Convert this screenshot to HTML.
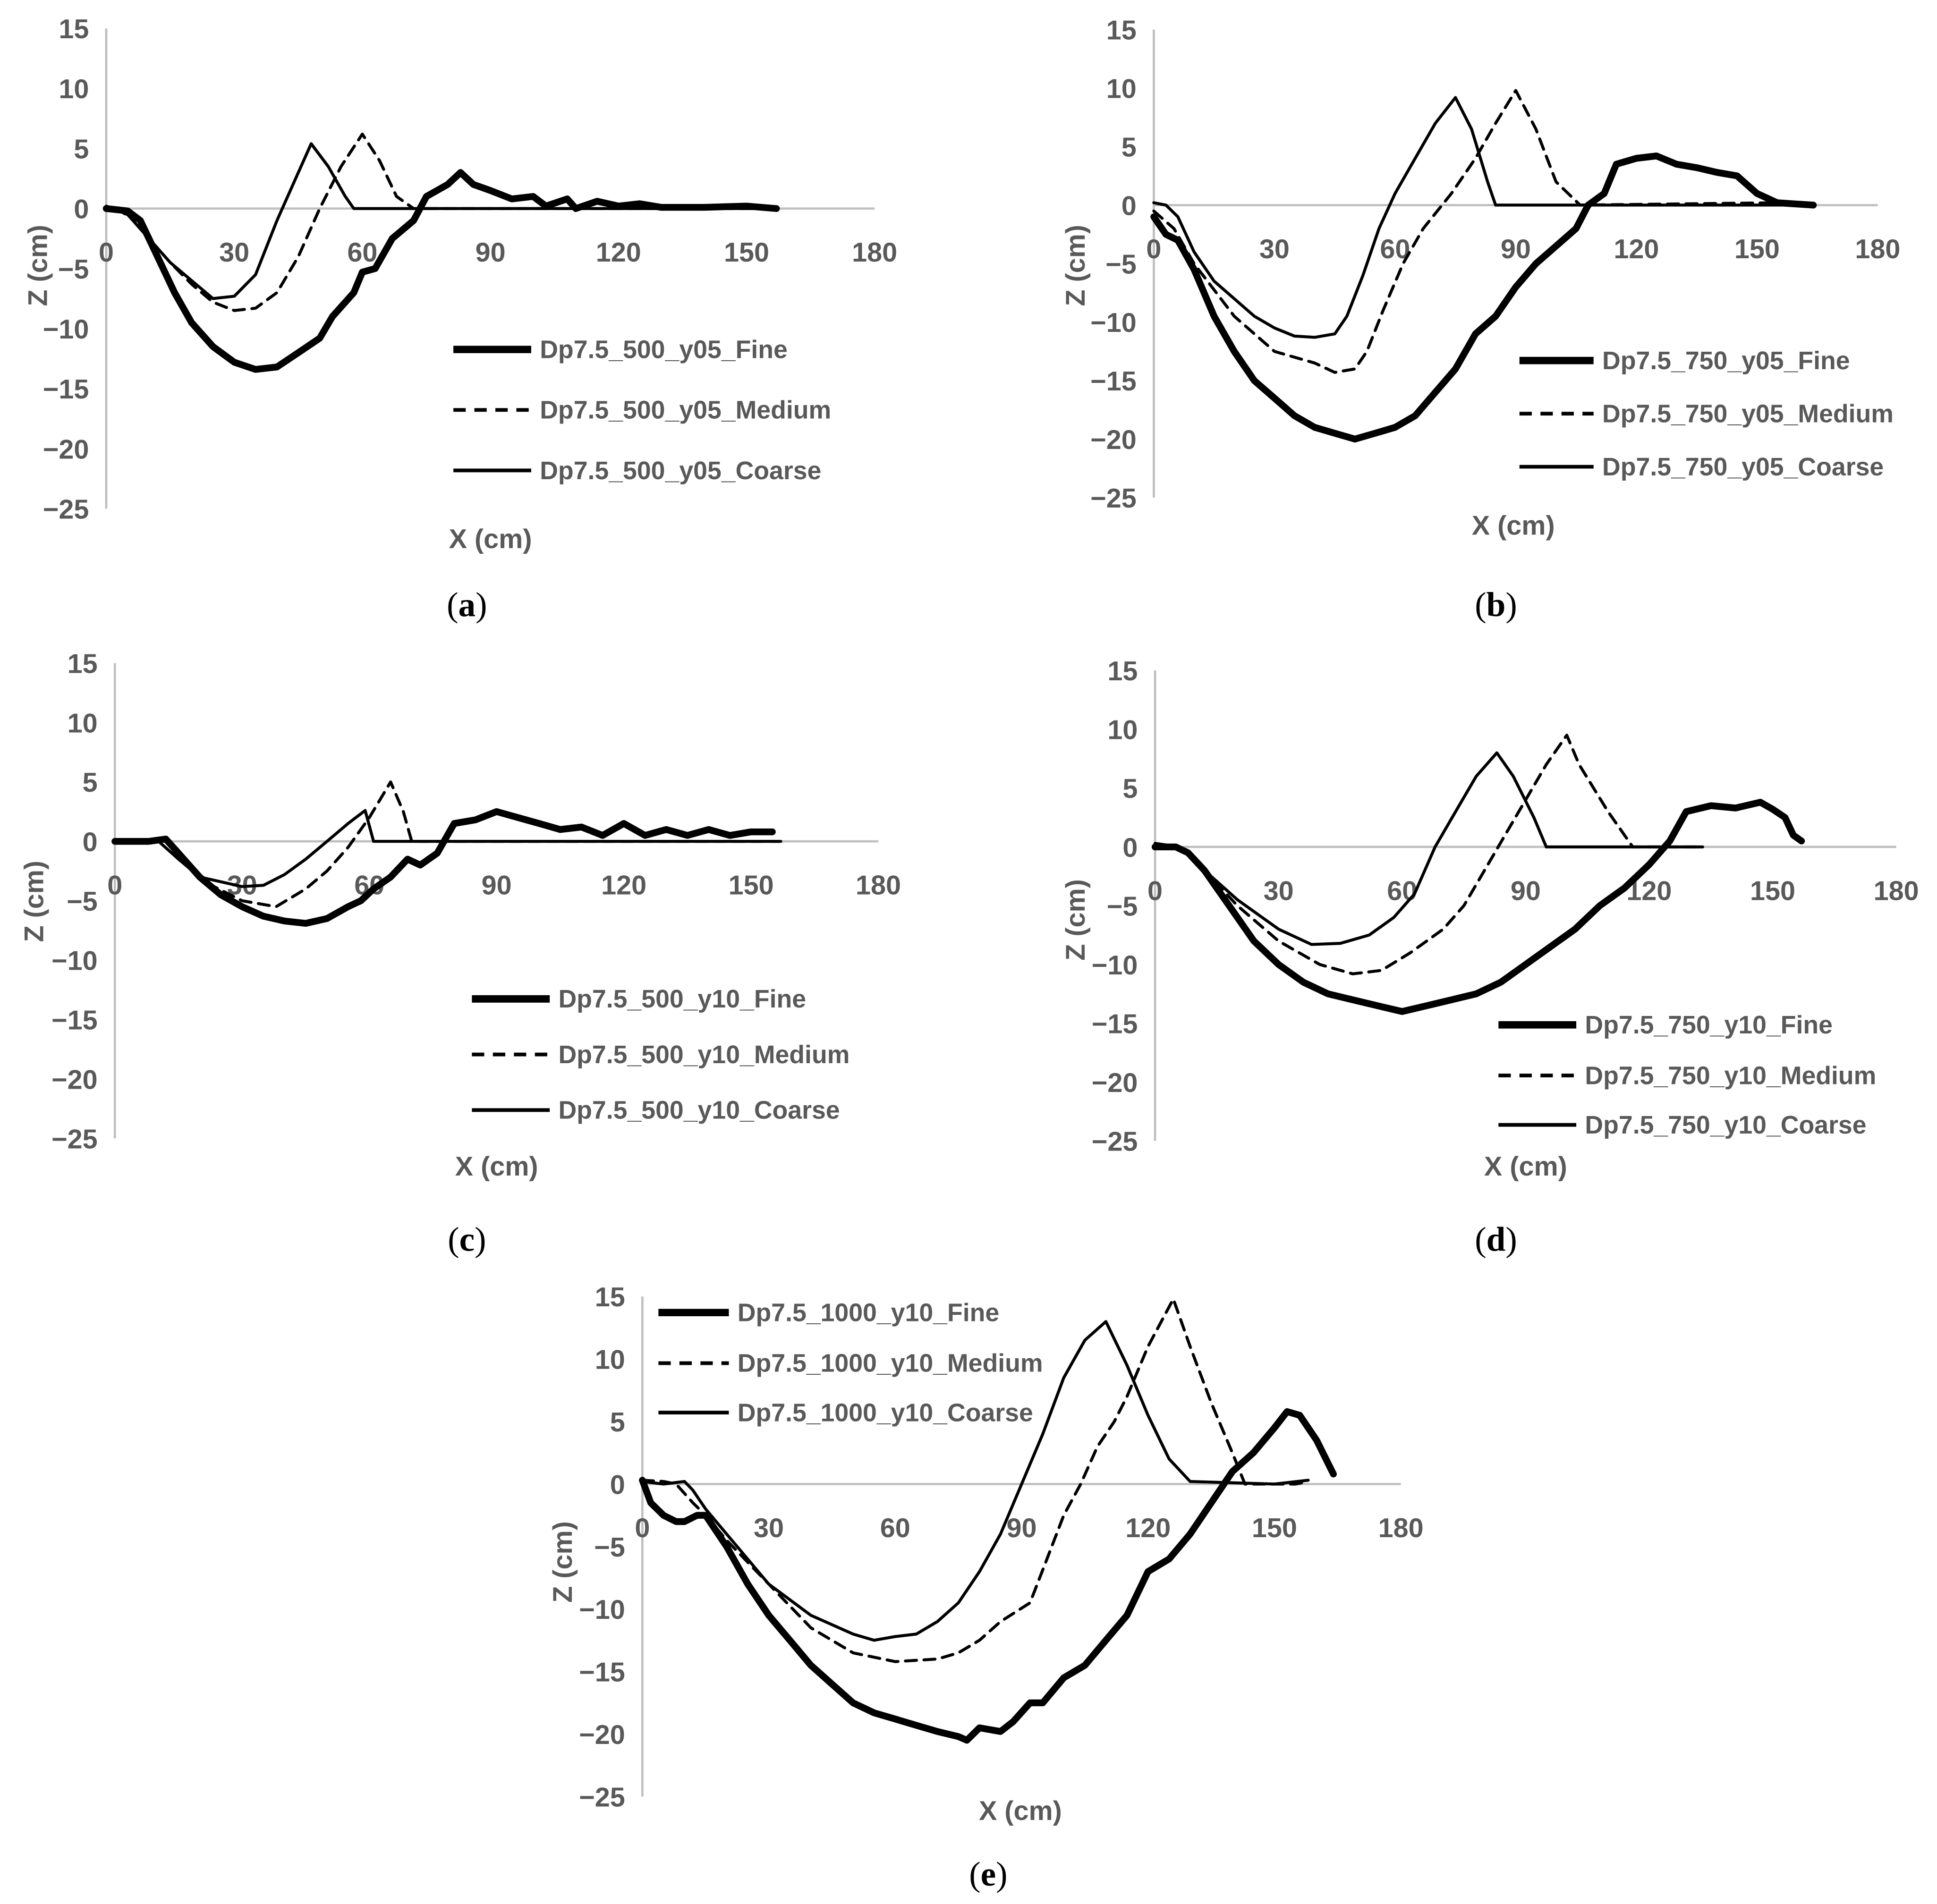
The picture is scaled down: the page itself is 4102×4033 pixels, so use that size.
<!DOCTYPE html>
<html><head><meta charset="utf-8">
<style>
html,body{margin:0;padding:0;background:#fff;}
svg{display:block;}
.tick{font-family:"Liberation Sans",sans-serif;font-weight:bold;fill:#595959;font-size:22px;}
.leg{font-family:"Liberation Sans",sans-serif;font-weight:bold;fill:#595959;font-size:20.5px;}
.cap{font-family:"Liberation Serif",serif;fill:#000;font-size:28px;}
</style></head>
<body>
<svg id="fig" width="4102" height="4033" viewBox="0 0 1568 1542" preserveAspectRatio="none" xmlns="http://www.w3.org/2000/svg"></svg>
<script>
// ----- data (x in cm, z in cm) -----
const xTicks = [0,30,60,90,120,150,180];
const yTicks = [15,10,5,0,-5,-10,-15,-20,-25];

const aFineX = [0,5,8,12,16,20,25,30,35,40,45,50,53,58,60,63,67,72,75,80,83,86,90,95,100,103,108,110,115,120,125,130,140,150,157];
const aFineZ = [0,-0.2,-1,-4,-7,-9.5,-11.5,-12.8,-13.4,-13.2,-12,-10.8,-9,-7,-5.3,-5,-2.5,-1,1,2,3,2,1.5,0.8,1,0.2,0.8,0,0.6,0.2,0.4,0.1,0.1,0.2,0];
const aMedX = [0,5,10,15,20,25,30,35,40,45,50,55,60,64,68,72,157];
const aMedZ = [0,-0.5,-2.5,-4.5,-6.3,-7.8,-8.5,-8.3,-7,-4,0,3.5,6.2,4,1,0,0];
const aCoaX = [0,5,10,15,20,25,30,35,40,45,48,52,56,58,157];
const aCoaZ = [0.2,-0.5,-2.5,-4.5,-6,-7.5,-7.3,-5.5,-1,3,5.4,3.5,1,0,0];

const bFineX = [0,3,6,10,15,20,25,30,35,40,45,50,55,60,65,70,75,80,85,90,95,100,105,108,112,115,120,125,130,135,140,145,150,155,164];
const bFineZ = [-1,-2.5,-3,-5.5,-9.5,-12.5,-15,-16.5,-18,-19,-19.5,-20,-19.5,-19,-18,-16,-14,-11,-9.5,-7,-5,-3.5,-2,0,1,3.5,4,4.2,3.5,3.2,2.8,2.5,1,0.2,0];
const bMedX = [0,5,10,20,30,40,45,50,53,57,62,67,74,80,85,90,95,100,106,155,162];
const bMedZ = [-0.5,-2,-5,-9.5,-12.5,-13.5,-14.3,-14,-12.5,-9,-5,-2,1,4,7,9.8,6.5,2,0,0.2,0];
const bCoaX = [0,3,6,10,15,20,25,30,35,40,45,48,52,56,60,65,70,75,79,83,85,162];
const bCoaZ = [0.2,0,-1,-4,-6.5,-8,-9.5,-10.5,-11.2,-11.3,-11,-9.5,-6,-2,1,4,7,9.2,6.5,2,0,0];

const cFineX = [0,8,12,15,20,25,30,35,40,45,50,55,58,61,65,69,72,76,80,85,90,95,100,105,110,115,120,125,130,135,140,145,150,155];
const cFineZ = [0,0,0.2,-1,-3,-4.5,-5.5,-6.3,-6.7,-6.9,-6.5,-5.5,-5,-4,-3,-1.5,-2,-1,1.5,1.8,2.5,2,1.5,1,1.2,0.5,1.5,0.5,1,0.5,1,0.5,0.8,0.8];
const cMedX = [0,12,15,20,30,38,45,50,55,60,65,68,70,157];
const cMedZ = [0,0.1,-1.2,-3.2,-5,-5.5,-4,-2.5,-0.5,2,5,2.5,0,0];
const cCoaX = [0,10,15,20,30,35,40,45,50,55,59,61,157];
const cCoaZ = [0.1,0.1,-1.5,-3,-3.8,-3.7,-2.8,-1.5,0,1.5,2.6,0,0];

const dFineX = [0,5,8,12,18,24,30,36,42,48,54,60,66,72,78,84,90,96,102,108,114,120,125,129,135,141,147,150,153,155,157];
const dFineZ = [0,0,-0.5,-2,-5,-8,-10,-11.5,-12.5,-13,-13.5,-14,-13.5,-13,-12.5,-11.5,-10,-8.5,-7,-5,-3.5,-1.5,0.5,3,3.5,3.3,3.8,3.2,2.5,1,0.5];
const dMedX = [0,6,12,20,30,40,48,55,62,70,75,80,85,90,95,100,103,110,116,133];
const dMedZ = [0.3,0,-2,-5,-8,-10,-10.8,-10.5,-9,-7,-5,-2,1,4,7,9.5,7,3,0,0];
const dCoaX = [0,6,12,20,30,38,45,52,58,63,68,73,78,83,87,92,95,133];
const dCoaZ = [0.2,0,-2,-4.5,-7,-8.3,-8.2,-7.5,-6,-4,0,3,6,8,6,2.5,0,0];

const eFineX = [0,2,5,8,10,13,15,20,25,30,35,40,45,50,55,60,65,70,75,77,80,85,88,92,95,100,105,110,115,120,125,130,135,140,145,150,153,156,160,164];
const eFineZ = [0.3,-1.5,-2.5,-3,-3,-2.5,-2.5,-5,-8,-10.5,-12.5,-14.5,-16,-17.5,-18.3,-18.8,-19.3,-19.8,-20.2,-20.5,-19.5,-19.8,-19,-17.5,-17.5,-15.5,-14.5,-12.5,-10.5,-7,-6,-4,-1.5,1,2.5,4.5,5.8,5.5,3.5,0.8];
const eMedX = [0,5,8,12,15,20,30,40,50,60,70,75,80,85,92,96,100,104,108,112,115,120,126,130,135,140,143,155,158];
const eMedZ = [0.3,0.2,0,-1.5,-2.5,-4.5,-8,-11.5,-13.5,-14.2,-14,-13.5,-12.5,-11,-9.5,-6,-2.5,0,3,5,7,11,14.8,11,6.5,2.5,0,0,0.2];
const eCoaX = [0,5,10,12,15,20,30,40,50,55,60,65,70,75,80,85,90,95,100,105,110,115,120,125,130,150,158];
const eCoaZ = [0.2,0,0.2,-0.5,-2,-4,-8,-10.5,-12,-12.5,-12.2,-12,-11,-9.5,-7,-4,0,4,8.5,11.5,13,9.5,5.5,2,0.2,0,0.3];

const panels = [
 {id:'a', x0:86, x1:708, yTop:23, yBot:412, fine:[aFineX,aFineZ], med:[aMedX,aMedZ], coa:[aCoaX,aCoaZ],
  names:['Dp7.5_500_y05_Fine','Dp7.5_500_y05_Medium','Dp7.5_500_y05_Coarse'], legX:367, legY:[283,332,381], legL:63,
  xt:[397,436], zt:[30,215], cap:[378,490]},
 {id:'b', x0:934, x1:1520, yTop:24, yBot:403, fine:[bFineX,bFineZ], med:[bMedX,bMedZ], coa:[bCoaX,bCoaZ],
  names:['Dp7.5_750_y05_Fine','Dp7.5_750_y05_Medium','Dp7.5_750_y05_Coarse'], legX:1230, legY:[292,335,378], legL:60,
  xt:[1225,425], zt:[870,215], cap:[1211,490]},
 {id:'c', x0:93, x1:711, yTop:537, yBot:922, fine:[cFineX,cFineZ], med:[cMedX,cMedZ], coa:[cCoaX,cCoaZ],
  names:['Dp7.5_500_y10_Fine','Dp7.5_500_y10_Medium','Dp7.5_500_y10_Coarse'], legX:382, legY:[809,854,899], legL:63,
  xt:[402,944], zt:[27,730], cap:[378,1004]},
 {id:'d', x0:935, x1:1535, yTop:543, yBot:924, fine:[dFineX,dFineZ], med:[dMedX,dMedZ], coa:[dCoaX,dCoaZ],
  names:['Dp7.5_750_y10_Fine','Dp7.5_750_y10_Medium','Dp7.5_750_y10_Coarse'], legX:1213, legY:[830,871,911], legL:63,
  xt:[1235,944], zt:[870,745], cap:[1211,1004]},
 {id:'e', x0:520, x1:1134, yTop:1050, yBot:1455, fine:[eFineX,eFineZ], med:[eMedX,eMedZ], coa:[eCoaX,eCoaZ],
  names:['Dp7.5_1000_y10_Fine','Dp7.5_1000_y10_Medium','Dp7.5_1000_y10_Coarse'], legX:533, legY:[1063,1104,1144], legL:57,
  xt:[826,1466], zt:[455,1265], cap:[800,1518]}
];

const NS='http://www.w3.org/2000/svg';
const svg=document.getElementById('fig');
function mk(tag, attrs, parent){
  const e=document.createElementNS(NS,tag);
  for(const k in attrs) e.setAttribute(k, attrs[k]);
  (parent||svg).appendChild(e);
  return e;
}
panels.forEach(p=>{
  const g=mk('g',{});
  
  
  const sx=v=>p.x0+(v/180)*(p.x1-p.x0);
  const sy=v=>p.yTop+(15-v)/40*(p.yBot-p.yTop);
  const ya=mk('line',{x1:p.x0,x2:p.x0,y1:p.yTop,y2:p.yBot,stroke:'#bfbfbf','stroke-width':1.8},g);
  
  
  const xa=mk('line',{x1:p.x0,x2:p.x1,y1:sy(0),y2:sy(0),stroke:'#bfbfbf','stroke-width':1.8},g);
  
  
  yTicks.forEach(t=>{
    const tx=mk('text',{x:p.x0-14,y:sy(t)+8,'text-anchor':'end',class:'tick'},g);
    tx.textContent=String(t).replace('-','\u2212');
    
    
  });
  xTicks.forEach(t=>{
    const tx=mk('text',{x:sx(t),y:sy(0)+43,'text-anchor':'middle',class:'tick'},g);
    tx.textContent=t;
    
    
  });
  const series=[[p.fine,5.5,null,'fine'],[p.med,2.4,'9,6','medium'],[p.coa,2.4,null,'coarse']];
  series.forEach(([d,w,dash,nm])=>{
    const pts=d[0].map((x,i)=>sx(x).toFixed(1)+','+sy(d[1][i]).toFixed(1)).join(' ');
    const a={points:pts,fill:'none',stroke:'#000','stroke-width':w,'stroke-linejoin':'round','stroke-linecap':'round'};
    if(dash) a['stroke-dasharray']=dash;
    const pl=mk('polyline',a,g);
    
    
  });
  [[6,null],[3,'10,7'],[3,null]].forEach(([w,dash],i)=>{
    const la={x1:p.legX,x2:p.legX+p.legL,y1:p.legY[i],y2:p.legY[i],stroke:'#000','stroke-width':w};
    if(dash) la['stroke-dasharray']=dash;
    const ln=mk('line',la,g);
    
    
    const tx=mk('text',{x:p.legX+p.legL+7,y:p.legY[i]+7,class:'leg'},g);
    tx.textContent=p.names[i];
    
    
  });
  const xt=mk('text',{x:p.xt[0],y:p.xt[1]+8,'text-anchor':'middle',class:'tick'},g);
  xt.textContent='X (cm)';
  
  
  const zt=mk('text',{x:0,y:0,'text-anchor':'middle',class:'tick',transform:'translate('+(p.zt[0]+8)+','+p.zt[1]+') rotate(-90)'},g);
  zt.textContent='Z (cm)';
  
  
  const cp=mk('text',{x:p.cap[0],y:p.cap[1]+9,'text-anchor':'middle',class:'cap'},g);
  cp.innerHTML='(<tspan font-weight="bold">'+p.id+'</tspan>)';
  
  
});
</script>
</body></html>
